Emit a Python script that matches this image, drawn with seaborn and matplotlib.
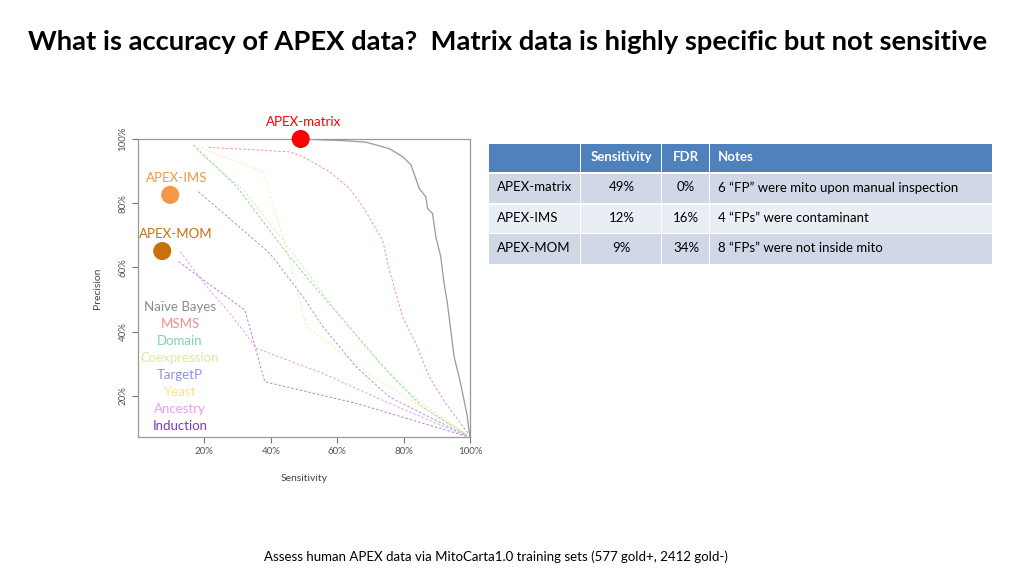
import pandas as pd
import matplotlib.pyplot as plt
import seaborn as sns
from matplotlib.patches import Rectangle

sns.set_theme(style="white")
plt.rcParams['font.family'] = ['Lato', 'DejaVu Sans']

# --- precision / sensitivity curves ---
nb_x = [0.49, 0.617, 0.687, 0.757, 0.797, 0.822, 0.847, 0.867, 0.872, 0.887, 0.897, 0.912,
        0.922, 0.932, 0.942, 0.952, 0.967, 0.982, 0.992, 0.997, 1.0]
nb_y = [1.0, 0.995, 0.99, 0.97, 0.945, 0.92, 0.846, 0.82, 0.784, 0.768, 0.696, 0.633,
        0.55, 0.488, 0.405, 0.322, 0.26, 0.187, 0.135, 0.093, 0.073]

msms_x = [0.212, 0.457, 0.497, 0.577, 0.637, 0.677, 0.737, 0.757, 0.797, 0.837, 0.877, 0.927, 0.987, 1.0]
msms_y = [0.974, 0.96, 0.945, 0.898, 0.846, 0.79, 0.685, 0.592, 0.446, 0.363, 0.26, 0.177, 0.093, 0.078]

domain_x = [0.167, 0.297, 0.457, 0.557, 0.657, 0.757, 0.857, 0.99]
domain_y = [0.981, 0.852, 0.633, 0.51, 0.39, 0.27, 0.165, 0.078]

coexp_x = [0.177, 0.32, 0.47, 0.6, 0.72, 0.85, 0.99]
coexp_y = [0.965, 0.84, 0.64, 0.46, 0.31, 0.18, 0.08]

targetp_x = [0.182, 0.397, 0.497, 0.557, 0.657, 0.757, 0.99]
targetp_y = [0.836, 0.644, 0.509, 0.415, 0.291, 0.197, 0.076]

yeast_x = [0.177, 0.377, 0.457, 0.507, 0.577, 0.707, 0.99]
yeast_y = [0.976, 0.898, 0.623, 0.415, 0.363, 0.26, 0.08]

ancestry_x = [0.127, 0.207, 0.277, 0.357, 0.557, 0.757, 0.99]
ancestry_y = [0.649, 0.54, 0.457, 0.348, 0.27, 0.177, 0.075]

induction_x = [0.122, 0.322, 0.382, 0.657, 0.99]
induction_y = [0.618, 0.467, 0.244, 0.177, 0.074]

methods = ['Naïve Bayes', 'MSMS', 'Domain', 'Coexpression', 'TargetP', 'Yeast', 'Ancestry', 'Induction']
method_colors = ['#8c8c8c', '#f08c94', '#80d4b0', '#d8eaa8', '#8e8ef0', '#ffe38a', '#f39af0', '#7a3cb0']
line_colors = ['#8c8c8c', '#f07888', '#6cc890', '#d0e8a0', '#8080ec', '#f8e890', '#f080e8', '#9a66dc']
curves_x = [nb_x, msms_x, domain_x, coexp_x, targetp_x, yeast_x, ancestry_x, induction_x]
curves_y = [nb_y, msms_y, domain_y, coexp_y, targetp_y, yeast_y, ancestry_y, induction_y]

# APEX datasets
apex_names = ['APEX-matrix', 'APEX-IMS', 'APEX-MOM']
apex_sens = [0.49, 0.097, 0.073]
apex_prec = [1.0, 0.826, 0.651]
apex_colors = ['#ff0000', '#f79646', '#c8700c']

# table
tbl_header = ['', 'Sensitivity', 'FDR', 'Notes']
tbl_rows = [['APEX-matrix', '49%', '0%', '6 \u201cFP\u201d were mito upon manual inspection'],
            ['APEX-IMS', '12%', '16%', '4 \u201cFPs\u201d were contaminant'],
            ['APEX-MOM', '9%', '34%', '8 \u201cFPs\u201d were not inside mito']]

frames = []
for name, xs, ys in zip(methods, curves_x, curves_y):
    frames.append(pd.DataFrame({'method': name, 'sens': xs, 'prec': ys}))
curves = pd.concat(frames, ignore_index=True)
pts = pd.DataFrame({'name': apex_names, 'sens': apex_sens, 'prec': apex_prec})

fig = plt.figure(figsize=(10.24, 5.76), dpi=100)
ax = fig.add_axes([138 / 1024, 1 - 437 / 576, 332 / 1024, 298 / 576])

palette = dict(zip(methods, line_colors))
sns.lineplot(data=curves[curves.method == 'Naïve Bayes'], x='sens', y='prec', color='#999999',
             sort=False, lw=0.9, ax=ax, legend=False)
sns.lineplot(data=curves[curves.method != 'Naïve Bayes'], x='sens', y='prec', hue='method',
             palette=palette, sort=False, lw=0.7, alpha=0.8, ax=ax, legend=False,
             linestyle=(0, (2.5, 2)))

sns.scatterplot(data=pts, x='sens', y='prec', hue='name', palette=dict(zip(apex_names, apex_colors)),
                s=170, edgecolor='none', ax=ax, legend=False, clip_on=False, zorder=5)

ax.set_xlim(0, 1.0)
ax.set_ylim(0.072, 1.0)
ax.set_xticks([0.2, 0.4, 0.6, 0.8, 1.0])
ax.set_xticklabels(['20%', '40%', '60%', '80%', '100%'])
ax.set_yticks([0.2, 0.4, 0.6, 0.8, 1.0])
ax.set_yticklabels(['20%', '40%', '60%', '80%', '100%'], rotation=90, va='center')
ax.tick_params(axis='both', direction='out', length=4, width=0.8, color='#777777',
               labelsize=7, labelcolor='#555555', bottom=True, left=True)
for sp in ax.spines.values():
    sp.set_color('#999999')
    sp.set_linewidth(0.9)
ax.set_xlabel('Sensitivity', fontsize=7.5, color='#444444', labelpad=13)
ax.set_ylabel('Precision', fontsize=7.5, color='#444444', labelpad=12)

# point labels
ax.text(apex_sens[0] + 0.01, apex_prec[0] + 0.035, apex_names[0], color=apex_colors[0],
        fontsize=9.5, ha='center', va='bottom', clip_on=False)
ax.text(apex_sens[1] + 0.02, apex_prec[1] + 0.035, apex_names[1], color=apex_colors[1],
        fontsize=9.5, ha='center', va='bottom')
ax.text(apex_sens[2] + 0.04, apex_prec[2] + 0.035, apex_names[2], color=apex_colors[2],
        fontsize=9.5, ha='center', va='bottom')

# legend text list
for i, (name, c) in enumerate(zip(methods, method_colors)):
    fig.text(180 / 1024, 1 - (307 + 17 * i) / 576, name, color=c, fontsize=9.5,
             ha='center', va='center')

# title and footer
fig.text(508 / 1024, 1 - 42 / 576, 'What is accuracy of APEX data?  Matrix data is highly specific but not sensitive',
         fontsize=19.7, fontweight='bold', ha='center', va='center', color='black')
fig.text(496 / 1024, 1 - 557 / 576,
         'Assess human APEX data via MitoCarta1.0 training sets (577 gold+, 2412 gold-)',
         fontsize=9.5, ha='center', va='center', color='black')

# table
col_edges = [489, 581, 662, 710, 993]
row_edges = [142, 172, 203, 233, 264]
row_fill = ['#4f81bd', '#d0d8e8', '#e9edf4', '#d0d8e8']
for r in range(4):
    for c in range(4):
        x0, x1 = col_edges[c], col_edges[c + 1]
        y0, y1 = row_edges[r], row_edges[r + 1]
        fig.patches.append(Rectangle((x0 / 1024, 1 - y1 / 576), (x1 - x0 - 1.5) / 1024,
                                     (y1 - y0 - 1.5) / 576, transform=fig.transFigure,
                                     facecolor=row_fill[r], edgecolor='none'))
        txt = tbl_header[c] if r == 0 else tbl_rows[r - 1][c]
        yc = 1 - ((y0 + y1) / 2) / 576
        if c in (1, 2):
            xt, ha = (x0 + x1) / 2 / 1024, 'center'
        else:
            xt, ha = (x0 + 8) / 1024, 'left'
        fig.text(xt, yc, txt, fontsize=9.5, ha=ha, va='center',
                 color='white' if r == 0 else 'black',
                 fontweight='bold' if r == 0 else 'normal')

fig.savefig('out.png', dpi=100)
